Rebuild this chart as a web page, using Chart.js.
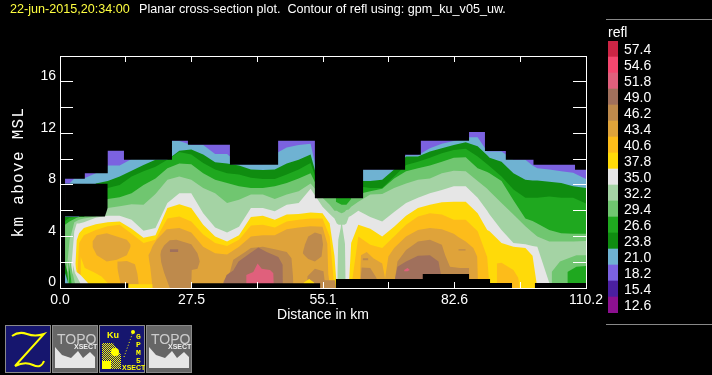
<!DOCTYPE html>
<html>
<head>
<meta charset="utf-8">
<script src="https://cdn.jsdelivr.net/npm/chart.js@4"></script>
<style>
  html, body { margin: 0; background: #000; overflow: hidden; }
  #page { position: relative; width: 712px; height: 375px; background: #000; font-family: "Liberation Sans", sans-serif; color: #fff; }
  #page canvas { position: absolute; display: block; }
  .txt { position: absolute; white-space: pre; line-height: 1; }
  .rule { position: absolute; left: 606px; width: 106px; height: 1px; background: #888; }
  .icon { position: absolute; top: 325px; }
</style>
</head>
<body>
<div id="page">
  <canvas id="plotCanvas" width="712" height="375" style="left:0;top:0"></canvas>
  <canvas id="barCanvas" width="112" height="295" style="left:600px;top:30px"></canvas>
  <div class="txt" style="left:10px;top:3px;font-size:12.6px;color:#ffff40">22-jun-2015,20:34:00</div>
  <div class="txt" style="left:139px;top:3px;font-size:12.6px">Planar cross-section plot.  Contour of refl using: gpm_ku_v05_uw.</div>
  <div class="txt" style="left:19px;top:172px;font-family:'Liberation Mono',monospace;font-size:16px;letter-spacing:1.3px;transform:translate(-50%,-50%) rotate(-90deg)">km above MSL</div>
  <div class="txt" style="left:608px;top:25px;font-size:14px">refl</div>
  <div class="rule" style="top:19px"></div>
  <div class="rule" style="top:324px"></div>

  <svg class="icon" style="left:5px" width="46" height="48">
    <rect x="0.5" y="0.5" width="45" height="47" fill="#16166e" stroke="#8a8a8a"/>
    <path d="M7 11 Q14 6 22 9 T39 9 L10 41 Q20 36 28 40 T39 36" fill="none" stroke="#ffff00" stroke-width="2"/>
  </svg>
  <svg class="icon" style="left:52px" width="46" height="48">
    <rect x="0.5" y="0.5" width="45" height="47" fill="#666" stroke="#8a8a8a"/>
    <text x="5" y="19" font-size="14" fill="#ccc" font-family="Liberation Sans">TOPO</text>
    <text x="22" y="24" font-size="7" font-weight="bold" fill="#eee" font-family="Liberation Sans">XSECT</text>
    <path d="M3 43 V22 L10 30 L19 33 L26 26 L31 33 L38 27 L43 32 V43 Z" fill="#e6e6e6"/>
  </svg>
  <svg class="icon" style="left:99px" width="46" height="48">
    <defs><pattern id="chk" width="2" height="2" patternUnits="userSpaceOnUse"><rect width="1" height="1" fill="#ffff00"/><rect x="1" y="1" width="1" height="1" fill="#ffff00"/></pattern></defs>
    <rect x="0.5" y="0.5" width="45" height="47" fill="#16166e" stroke="#8a8a8a"/>
    <text x="8" y="13" font-size="9" font-weight="bold" fill="#ffff00" font-family="Liberation Sans">Ku</text>
    <path d="M3 18 H14 L22 30 V44 H3 Z" fill="url(#chk)"/>
    <circle cx="16" cy="27" r="4" fill="#ffff00"/><rect x="3" y="36" width="9" height="8" fill="#ffff00"/>
    <path d="M25 32 L34 7" stroke="#ffff00" stroke-dasharray="1 2"/><circle cx="34" cy="7" r="2" fill="#ffff00"/>
    <text x="37" y="14" font-size="8" font-weight="bold" fill="#ffff00" font-family="Liberation Mono">G</text>
    <text x="37" y="22" font-size="8" font-weight="bold" fill="#ffff00" font-family="Liberation Mono">P</text>
    <text x="37" y="30" font-size="8" font-weight="bold" fill="#ffff00" font-family="Liberation Mono">M</text>
    <text x="37" y="38" font-size="8" font-weight="bold" fill="#ffff00" font-family="Liberation Mono">5</text>
    <text x="23" y="45" font-size="7" font-weight="bold" fill="#ffff00" font-family="Liberation Sans">XSECT</text>
  </svg>
  <svg class="icon" style="left:146px" width="46" height="48">
    <rect x="0.5" y="0.5" width="45" height="47" fill="#666" stroke="#8a8a8a"/>
    <text x="5" y="19" font-size="14" fill="#ccc" font-family="Liberation Sans">TOPO</text>
    <text x="22" y="24" font-size="7" font-weight="bold" fill="#eee" font-family="Liberation Sans">XSECT</text>
    <path d="M3 43 V22 L10 30 L19 33 L26 26 L31 33 L38 27 L43 32 V43 Z" fill="#e6e6e6"/>
  </svg>
</div>

<script>
// --- Colorbar ---
const barLabels = ['57.4','54.6','51.8','49.0','46.2','43.4','40.6','37.8','35.0','32.2','29.4','26.6','23.8','21.0','18.2','15.4','12.6'];
const barColors = ['#cd2545','#f5476f','#e0607c','#a0705c','#be8a4c','#dfa33a','#fdbc1a','#ffda09','#e6e6e6','#a4d3a4','#70c670','#1fa81f','#0f8c10','#6fb2d2','#7b62e0','#4a1fa0','#8c1090'];
const colorOf = label => barColors[barLabels.indexOf(label)];

// --- Axes ---
const xTicksKm = [0,13.775,27.55,41.325,55.1,68.875,82.65,96.425,110.2];
const xTickLabels = ['0.0','','27.5','','55.1','','82.6','','110.2'];
const yTicksKm = [0,2,4,6,8,10,12,14,16];
const yTickLabels = ['0','','4','','8','','12','','16'];

// --- Contour levels: top of each reflectivity level (km) along the section ---
const xLeft = [1.05,2,3,3.5,4,5,7.5];
const xMid = [10,12.5,15,17.5,20,22.5,25,27.5,30,32.5,35,37.5,40,42.5,45,47.5,50,52.5];
const xGap = [55,56.5,57.5,58,58.4,59,59.6,60,60.5,61];
const xRight = [62.5,65,67.5,70,72.5,75,77.5,80,82.5,85,87.5,89.5,90,92.5,95,97.5,99,100,102.5,105,107.5,110.2];
const xKm = [...xLeft, ...xMid, ...xGap, ...xRight];

const top210 = [8.1,8.1,8.5,8.5,8.5,8.5,8.9,
  9.5,9.5,10,10,10,11.4,11.4,11.1,11.1,10.4,10.4,9.6,9.6,9.6,10.4,10.9,11.1,11.2,
  7,7,7,7,7,7,7,7,7,7,
  9.2,9.2,9.2,9.2,10.3,10.3,10.85,11.2,11.4,11.7,11.7,10.6,10.6,10.6,9.95,9.95,9.5,9.3,9.2,9.05,8.95,8.45];
const top238 = [5.5,5.5,5.5,5.5,5.5,6,8.1,
  8.3,8.65,9.1,9.55,9.95,9.95,10.65,10.75,10.35,9.75,9.65,9.5,9.2,9.15,9.2,9.65,9.95,10.35,
  7,7,7,7,7,7,7,7,7,7,
  8.3,8.3,8.4,9.2,10.2,10.2,10.6,10.85,11.1,11.3,11,10.3,10.1,9.8,8.9,8.4,8.35,8.35,8.25,8.15,7.9,7.75];
const top266 = [5.2,5.45,5.5,5.5,5.5,6,7,
  7.75,8,8.65,9.05,9.4,9.95,10.55,10.35,9.7,9.2,8.9,8.8,8.55,8.45,8.45,8.8,9.2,9.7,
  7,7,7,7,7,7,7,7,7,7,
  7.9,7.75,7.75,8.65,9.55,9.8,10.1,10.45,10.7,10.8,10.2,9.6,9.45,8.65,7.65,7,7,7,7.1,7,7,6.55];
const top294 = [4.9,5.15,5.35,5.45,5.5,5.5,6.5,
  6.9,7.05,7.35,8,8.5,9.3,9.65,9.6,8.9,8.4,8.15,7.9,7.75,7.75,7.9,8.15,8.5,8.9,
  7,7,7,7,7,7,7,7,7,7,
  7.3,7.5,7.7,8.5,9.05,9.3,9.5,9.8,10.1,10.15,9.3,9,8.9,8.3,6.8,5.4,5.2,5,4.5,4.25,4.2,4.2];
const top322 = [0,3.7,5.1,5.2,5.3,5.4,5.55,
  6.2,6.35,6.5,6.45,7.3,8.4,8.65,8.4,7.75,7.35,6.6,6.85,7.25,7.25,6.9,7.25,7.5,8.1,
  7,6.45,6,6,5.9,5.8,5.9,6.05,6.1,6.3,
  6.7,7.25,7.3,7.75,8.1,8.4,8.5,8.9,9.1,9.05,8.3,7.7,7.5,6.6,5.7,4.8,4.3,4,3.6,3.6,3.6,3.65];
const top350 = [0,0,4.4,5,5,5.1,5.45,
  5.6,5.6,5.3,4.45,4.65,6.6,7.35,7.35,5.8,4.7,4.3,4.75,6.2,6.2,5.95,6.45,6.6,7.7,
  6.3,5.75,5.4,5,4.9,4.9,4.9,5,5.5,5.6,
  6,5.5,5.15,5.9,6.6,7,7.35,7.6,7.9,7.9,7,6,5.7,4.5,3.5,3.4,3.25,3.2,0.4,0,0,0];
const top378 = [0,0,0,3.7,4.25,4.65,4.95,
  5.1,5.15,4.6,3.9,4.1,6.2,6.5,6.2,4.9,4,3.6,4.1,5.5,5.6,5.3,5.7,5.75,5.85,
  5.8,5,2.5,0,0,0,0,0,0,3.5,
  4.9,4.6,4,4.75,5.6,6.2,6.45,6.65,6.7,6.7,5.8,4.5,4.4,3.5,3.2,3.1,2.5,0,0,0,0,0];
const top406 = [0,0,0,0,3.5,4.1,4.5,
  4.8,4.9,4.2,3.5,3.75,5.4,5.55,5.15,4.15,3.5,3.25,3.75,4.85,4.9,4.7,5.15,5.3,5.4,
  5.4,4,0,0,0,0,0,0,0,0,
  4,3.35,3.1,4,4.9,5.55,5.8,5.7,5.3,5.3,4.4,2.4,0,0,0,0,0,0,0,0,0,0];

// Second patch of 40.6 near the right end
const isle406X = [91.5,92.5,95,96,96.3];
const isle406Top = [1.9,1.95,1.4,0.8,0];

// --- 43.4 patches ---
const a434X = [6.8,7.7,9.8,11.9,14,14.8];
const a434Top = [3.6,4.1,4.25,4,3.75,3.35];
const a434Bot = [3.2,2.55,2.05,2.2,2.55,3.2];
const b434X = [12,12.7,14,15.7,16.2,16.5];
const b434Top = [2.05,2.05,2.1,1.85,1.15,0.35];
const b434Bot = [1.55,0.3,0.3,0.3,0.3,0.3];
const c434X = [18.5,18.9,19.4,20.25,22.35,25,27.5,30,32.5,35,37.5,40,42.5,45,47.5,50,52.5,55,56,56.2,56.6];
const c434Top = [2.55,2.8,3.25,3.75,4.55,4.65,4.3,3.2,2.7,2.6,3.2,4,4.1,4.1,4.55,4.7,4.8,4.75,3.45,1.1,0];
const c434Bot = [2.55,1.65,0,0,0,0,0,0,0,0,0,0,0,0,0,0,0,0,0,0,0];
const d434X = [62.85,63.06,64.25,65.65,67.5,68.1];
const d434Top = [0.75,2.55,2.8,2.3,1.9,0.75];
const e434X = [68.1,68.8,70,72.5,75,77.5,80,82.5,83.45,85,86.6,87.4,87.6];
const e434Top = [0.75,2.45,3.1,4,4.5,4.65,4.55,4.2,3.95,3.6,3.1,2.45,0];

// --- 46.2 patches ---
const f462X = [21,21.2,21.8,23,24.4,27.5,27.6,28.8,29.3];
const f462Top = [2.6,2.9,3.3,3.7,3.75,3.4,3.4,2.7,2.05];
const f462Bot = [2.6,2,1.2,0,0,0,1.4,1.5,2.05];
const g462X = [34.2,35.6,36.3,38.4,40,42.5,45,47.5,48.5,48.9];
const g462Top = [0.5,1.25,2.2,2.7,3.1,3.2,3,2.8,2.3,0.5];
const h462X = [50.85,51.3,52,53.4,54.8,55.1];
const h462Top = [2.7,3.35,4,4.3,4.15,3.4];
const h462Bot = [2.7,2.5,2.25,2.05,2.45,3.4];
const i462X = [51.8,53.4,55.2,55.5];
const i462Top = [0.9,1.5,1.3,0.4];
const j462X = [54.8,57.6,57.8];
const j462Top = [0.6,0.6,0];
const k462X = [63,63.2,65,66.35];
const k462Top = [0.75,1.6,1.55,0.75];
const l462X = [70.2,70.7,72.5,75,77.5,80,80.7,81.7,83.8,85.7,85.8];
const l462Top = [0.75,2.05,2.95,3.6,3.75,3.35,2.55,1.65,1.55,1.55,0];
const streakAX = [63.4,64.6];
const streakATop = [2.3,2.3];
const streakABot = [2.15,2.15];
const streakBX = [83.45,85];
const streakBTop = [3,3];
const streakBBot = [2.9,2.9];

// --- 49.0 patches ---
const m490X = [34.2,34.9,36.3,37.4,39.8,41.55,43.3,45.75,46.65,46.7];
const m490Top = [0.35,1,1.35,2.05,2.7,3.15,2.8,2.4,1.8,0.35];
const n490X = [70.2,70.7,72.5,75,77.5,79.3,79.75,80];
const n490Top = [0.75,1.65,2.05,2.5,2.55,2.05,1.15,0];
const o490X = [23,24.8];
const o490Top = [3,3];
const o490Bot = [2.8,2.8];

// --- 51.8 patches ---
const q518X = [39,39.01,40.5,41.4,42.25,44,44.7,44.8];
const q518Top = [0.35,1,1.25,1.9,1.5,1.4,1.15,0.35];
const r518X = [72.1,72.8,73.3];
const r518Top = [1.4,1.55,1.4];
const r518Bot = [1.3,1.3,1.4];

// --- Weaker echoes under the left and right edges and near the gap ---
const lowYellowX = [4.3,5.2,7,8.7,10.1];
const lowYellowTop = [2.45,1.55,1.25,0.9,0.35];
const baseYellowX = [14.3,19.4];
const baseYellowTop = [0.3,0.3];
const lowWhiteX = [3.15,3.5,4.3,5.95];
const lowWhiteTop = [1.9,1.25,1,0.35];
const low322X = [2.65,3.15,4.3];
const low322Top = [1.9,1.15,0.35];
const low294X = [2.1,2.65,3.15];
const low294Top = [2.2,1.15,0.35];
const low266X = [1.75,2.1,2.45];
const low266Top = [2.2,1.25,0.35];
const low238X = [1.05,1.55,1.75];
const low238Top = [1.9,1.25,0.35];
const low210X = [1.05,1.55,1.7];
const low210Top = [1.15,0.6,0.35];
const patchYellowX = [51,52.2,53.3];
const patchYellowTop = [0.4,0.7,0.4];
const right294X = [103,104.75,106.5,108.2,110.2];
const right294Top = [1.25,2.05,2.3,2.55,2.55];
const right266X = [106.3,108.2,110.2];
const right266Top = [1.25,1.65,1.7];
const gap266X = [57.8,59,60,61];
const gap266Top = [7,7,7,7];
const gap266Bot = [6.7,6.45,6.45,6.9];
const streak322X = [58.1,58.3,58.8,59,59.2,59.7,59.85];
const streak322Top = [1.15,3.75,4.65,5.3,4.65,3.45,0.9];

// --- Where there is no echo (stepped edges) ---
const echoTopX = [0,1.05,3.1,5.2,10,13.4,23.46,26.8,35.6,45.7,53.4,63.5,72.3,75.6,85.7,89.03,93.4,99.2,107.9,110.2];
const echoTopKm = [0,8.47,8.47,8.91,10.65,9.95,11.42,11.11,9.56,11.42,6.97,9.17,10.34,11.42,12.1,10.62,9.95,9.56,9.17,9.17];
const echoBaseX = [0,14.3,27.6,54.5,57.8,76,85.7,90.1,94.7,99.5,110.2];
const echoBaseKm = [0.36,0,0.36,0,0.7,1.09,0.7,0.39,0,0.39,0.39];
const holeX = [1.05,9.4,10];
const holeTop = [8.08,8.08,8.08];
const holeBot = [5.54,5.54,6.2];

// --- Build the datasets, outermost level first ---
const layers = [];
const toPoints = (x, y) => x.map((v, i) => ({ x: v, y: y[i] }));

function addBand(label, x, top, bottom) {
    const color = label === 'none' ? '#000' : colorOf(label);
    const style = { borderWidth: 0, pointRadius: 0, tension: 0, backgroundColor: color };
    if (bottom) {
        layers.push({ ...style, data: toPoints(x, bottom), fill: false });
        layers.push({ ...style, data: toPoints(x, top), fill: '+1' });
    } else {
        layers.push({ ...style, data: toPoints(x, top), fill: 'origin' });
    }
}

addBand('18.2', [1.05, 110.2], [12.5, 12.5]);
addBand('21.0', xKm, top210);
addBand('23.8', xKm, top238);
addBand('26.6', xKm, top266);
addBand('29.4', xKm, top294);
addBand('32.2', xKm, top322);
addBand('35.0', xKm, top350);
addBand('32.2', streak322X, streak322Top);
addBand('37.8', xKm, top378);
addBand('40.6', xKm, top406);
addBand('40.6', isle406X, isle406Top);

addBand('43.4', a434X, a434Top, a434Bot);
addBand('43.4', b434X, b434Top, b434Bot);
addBand('43.4', c434X, c434Top, c434Bot);
addBand('43.4', d434X, d434Top);
addBand('43.4', e434X, e434Top);

addBand('46.2', f462X, f462Top, f462Bot);
addBand('46.2', g462X, g462Top);
addBand('46.2', h462X, h462Top, h462Bot);
addBand('46.2', i462X, i462Top);
addBand('46.2', j462X, j462Top);
addBand('46.2', k462X, k462Top);
addBand('46.2', l462X, l462Top);
addBand('46.2', streakAX, streakATop, streakABot);
addBand('46.2', streakBX, streakBTop, streakBBot);

addBand('49.0', m490X, m490Top);
addBand('49.0', n490X, n490Top);
addBand('49.0', o490X, o490Top, o490Bot);
addBand('51.8', q518X, q518Top);
addBand('51.8', r518X, r518Top, r518Bot);

addBand('37.8', lowYellowX, lowYellowTop);
addBand('37.8', baseYellowX, baseYellowTop);
addBand('37.8', patchYellowX, patchYellowTop);
addBand('35.0', lowWhiteX, lowWhiteTop);
addBand('32.2', low322X, low322Top);
addBand('29.4', low294X, low294Top);
addBand('26.6', low266X, low266Top);
addBand('23.8', low238X, low238Top);
addBand('21.0', low210X, low210Top);
addBand('29.4', right294X, right294Top);
addBand('26.6', right266X, right266Top);
addBand('26.6', gap266X, gap266Top, gap266Bot);

// Black masks on top of the fields
addBand('none', holeX, holeTop, holeBot);
layers.push({ data: toPoints(echoTopX, echoTopKm), fill: 'end', stepped: true, borderWidth: 0, pointRadius: 0, backgroundColor: '#000' });
layers.push({ data: toPoints(echoBaseX, echoBaseKm), fill: 'origin', stepped: true, borderWidth: 0, pointRadius: 0, backgroundColor: '#000' });

// Chart.js paints the last dataset first
layers.reverse();

// --- Main plot ---
const tickFont = { family: 'Liberation Sans', size: 14 };

function axis(position, ticksKm, tickLen, extra) {
    return {
        type: 'linear',
        position: position,
        min: 0,
        max: ticksKm === xTicksKm ? 110.2 : 18,
        afterBuildTicks: scale => { scale.ticks = ticksKm.map(v => ({ value: v })); },
        border: { color: '#fff', width: 1, z: 2 },
        grid: { drawOnChartArea: false, drawTicks: true, tickLength: tickLen, tickColor: '#fff', tickWidth: 1, z: 1 },
        ...extra
    };
}

new Chart(document.getElementById('plotCanvas').getContext('2d'), {
    type: 'line',
    data: { datasets: layers },
    options: {
        responsive: false,
        animation: false,
        layout: { padding: { left: 0, right: 125, top: 55, bottom: 0 } },
        plugins: { legend: { display: false }, tooltip: { enabled: false } },
        scales: {
            x: axis('bottom', xTicksKm, -6, {
                afterFit: s => { s.height = 87; },
                title: { display: true, text: 'Distance in km', color: '#fff', font: tickFont, padding: { top: 0, bottom: 51 } },
                ticks: { color: '#fff', font: tickFont, padding: 10, autoSkip: false, maxRotation: 0, callback: (v, i) => xTickLabels[i] }
            }),
            y: axis('left', yTicksKm, -13, {
                afterFit: s => { s.width = 60; },
                ticks: { color: '#fff', font: tickFont, padding: 17, labelOffset: -5.5, autoSkip: false, callback: (v, i) => yTickLabels[i] }
            }),
            xTop: axis('top', xTicksKm, -6, { afterFit: s => { s.height = 1; }, ticks: { display: false } }),
            yRight: axis('right', yTicksKm, -13, { afterFit: s => { s.width = 1; }, ticks: { display: false } })
        }
    }
});

// --- Colorbar chart ---
new Chart(document.getElementById('barCanvas').getContext('2d'), {
    type: 'bar',
    data: {
        labels: barLabels,
        datasets: [{ data: barLabels.map(() => 1), backgroundColor: barColors, barPercentage: 1, categoryPercentage: 1, borderWidth: 0 }]
    },
    options: {
        indexAxis: 'y',
        responsive: false,
        animation: false,
        layout: { padding: { left: 8, right: 0, top: 11, bottom: 12 } },
        plugins: { legend: { display: false }, tooltip: { enabled: false } },
        scales: {
            x: { display: false, min: 0, max: 1 },
            y: {
                position: 'right',
                afterFit: s => { s.width = 94; s.paddingTop = 0; s.paddingBottom = 0; },
                border: { display: false },
                grid: { display: false, drawTicks: false },
                ticks: { color: '#fff', font: tickFont, padding: 6, labelOffset: 1.5, autoSkip: false }
            }
        }
    }
});
</script>
</body>
</html>
